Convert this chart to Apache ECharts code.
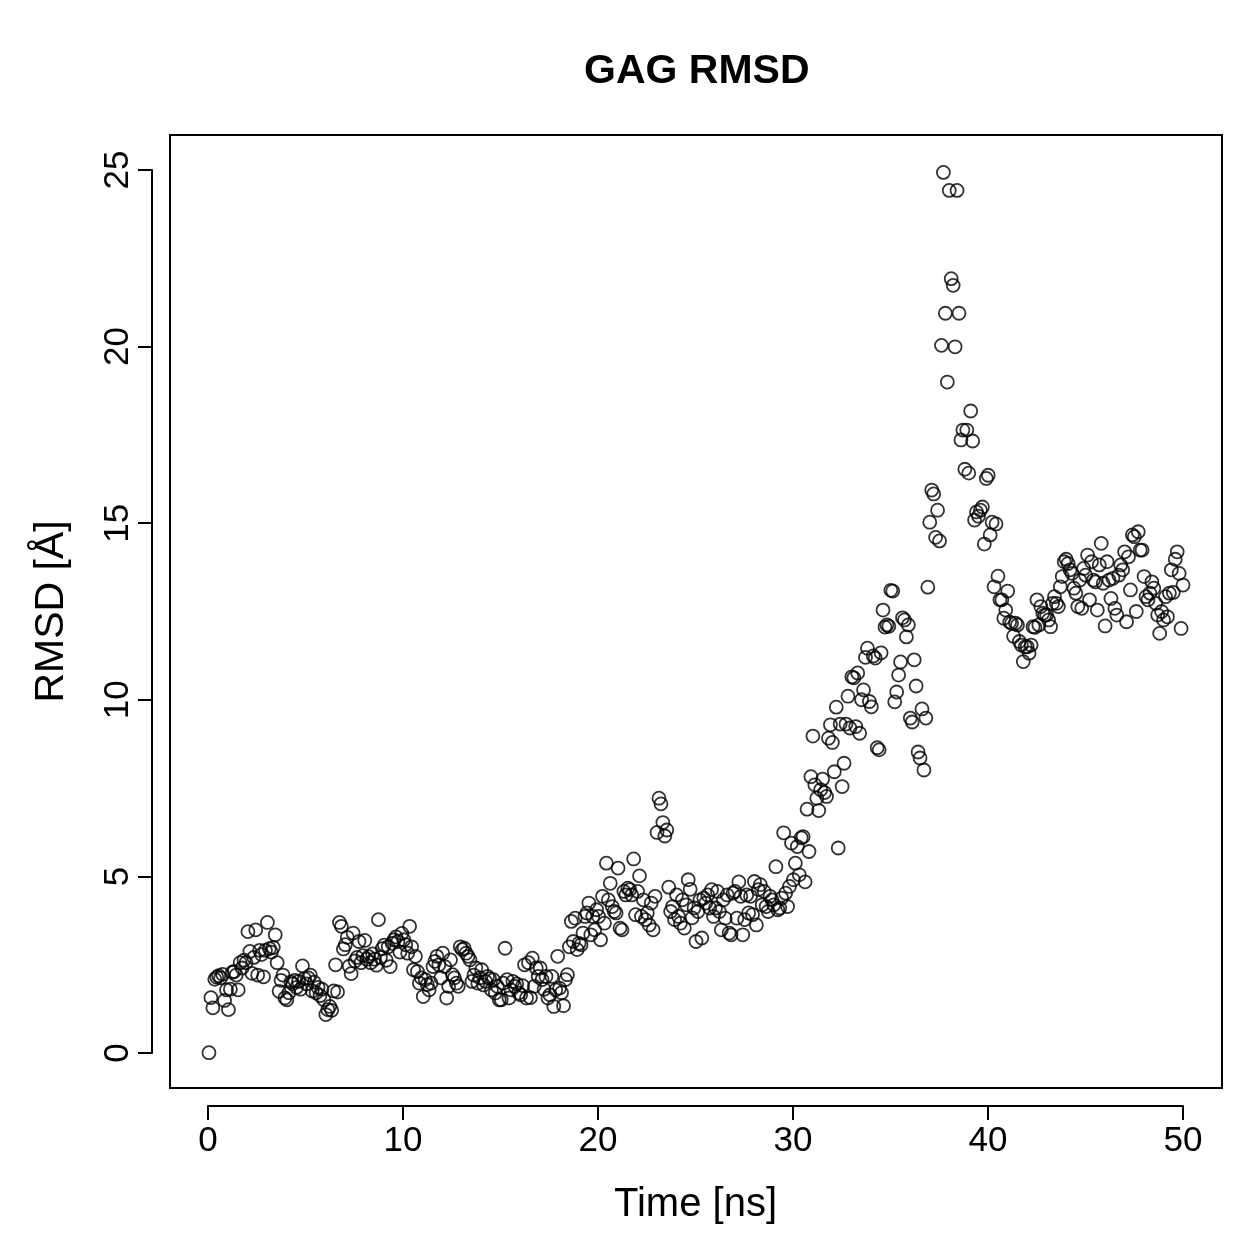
<!DOCTYPE html>
<html>
<head>
<meta charset="utf-8">
<script src="https://cdn.jsdelivr.net/npm/echarts@6/dist/echarts.min.js"></script>
<style>
  html, body { margin: 0; background: #fff; }
  #chart { width: 1259px; height: 1259px; }
</style>
</head>
<body>
<div id="chart"></div>
<script>
// RMSD [Å] sampled every 0.1 ns
const timeStep = 0.1;
const rmsd0to10 = [
  0.00, 1.56, 1.27, 2.08, 2.14, 2.18, 2.12, 2.22, 1.48, 1.78,
  1.22, 1.80, 2.28, 2.30, 2.20, 1.78, 2.55, 2.40, 2.62, 2.55,
  3.43, 2.87, 2.25, 2.70, 3.48, 2.20, 2.90, 2.78, 2.15, 2.90,
  3.69, 2.95, 2.85, 2.98, 3.34, 2.55, 1.74, 2.05, 2.20, 1.55,
  1.50, 1.70, 2.00, 1.95, 2.05, 1.85, 2.02, 1.80, 2.46, 2.10,
  1.95, 2.12, 2.20, 1.75, 2.00, 1.70, 1.85, 1.62, 1.80, 1.50,
  1.08, 1.22, 1.31, 1.20, 1.75, 2.49, 1.72, 3.69, 3.58, 2.94,
  3.06, 3.27, 2.45, 2.24, 3.39, 2.60, 2.70, 3.15, 2.55, 2.75,
  3.18, 2.65, 2.72, 2.55, 2.80, 2.65, 2.48, 3.77, 2.70, 2.95,
  3.05, 2.62, 3.00, 2.44, 3.10, 3.20, 3.28, 3.15, 2.85, 3.38
];
const rmsd10to20 = [
  3.20, 3.06, 2.82, 3.58, 3.00, 2.35, 2.73, 2.30, 1.97, 2.12,
  1.59, 2.07, 1.93, 1.78, 1.97, 2.44, 2.59, 2.73, 2.49, 2.12,
  2.82, 2.44, 1.55, 1.88, 2.63, 2.21, 2.12, 1.97, 1.88, 3.00,
  2.92, 2.96, 2.82, 2.73, 2.63, 2.02, 2.20, 2.40, 1.97, 2.12,
  2.35, 1.92, 2.02, 2.16, 2.10, 1.78, 2.07, 1.69, 1.88, 1.50,
  1.50, 1.97, 2.96, 2.07, 1.55, 1.78, 2.02, 1.88, 1.95, 1.69,
  1.64, 1.90, 2.49, 1.55, 2.55, 1.56, 2.68, 1.88, 2.40, 2.16,
  2.40, 2.07, 1.80, 2.16, 1.55, 1.64, 2.16, 1.31, 1.78, 2.73,
  1.83, 1.70, 1.33, 2.07, 2.21, 3.00, 3.72, 3.15, 3.81, 2.92,
  3.10, 3.06, 3.39, 3.86, 3.96, 4.24, 3.34, 3.86, 3.48, 4.05
];
const rmsd20to30 = [
  3.86, 3.20, 4.43, 3.67, 5.37, 4.33, 4.80, 4.14, 4.00, 3.96,
  5.23, 3.53, 3.48, 4.57, 4.47, 4.66, 4.62, 4.47, 5.49, 3.91,
  4.57, 5.01, 3.86, 4.33, 3.77, 3.96, 3.62, 4.24, 3.48, 4.43,
  6.24, 7.21, 7.05, 6.52, 6.14, 6.31, 4.69, 4.00, 4.14, 3.77,
  4.47, 3.86, 3.67, 4.33, 3.53, 4.19, 4.90, 4.63, 3.82, 4.10,
  3.15, 4.00, 4.33, 3.25, 4.38, 4.24, 4.47, 4.10, 4.62, 3.86,
  4.10, 4.57, 4.00, 3.48, 4.33, 3.81, 4.47, 3.39, 3.34, 4.52,
  4.57, 3.81, 4.84, 4.43, 3.34, 3.77, 4.47, 3.96, 4.43, 3.91,
  4.85, 3.62, 4.62, 4.76, 4.19, 4.57, 4.14, 4.00, 4.43, 4.33,
  4.19, 5.27, 4.05, 4.10, 4.38, 6.23, 4.52, 4.14, 4.71, 5.94
];
const rmsd30to40 = [
  4.90, 5.37, 5.84, 5.04, 6.09, 6.12, 4.84, 6.90, 5.70, 7.82,
  8.97, 7.59, 7.21, 6.86, 7.45, 7.75, 7.37, 7.26, 8.91, 9.29,
  8.79, 7.96, 9.79, 5.80, 9.31, 7.54, 8.20, 9.31, 10.10, 9.20,
  10.65, 10.62, 9.24, 10.76, 9.05, 10.00, 10.28, 11.20, 11.46, 9.95,
  9.80, 11.24, 11.18, 8.64, 8.58, 11.33, 12.54, 12.06, 12.12, 12.08,
  13.10, 13.08, 9.94, 10.22, 10.70, 11.07, 12.32, 12.26, 11.78, 12.12,
  9.48, 9.37, 11.13, 10.39, 8.52, 8.35, 9.74, 8.01, 9.48, 13.19,
  15.03, 15.94, 15.83, 14.60, 15.37, 14.50, 20.04, 24.94, 20.95, 19.00,
  24.43, 21.93, 21.74, 20.00, 24.43, 20.95, 17.36, 17.64, 16.53, 17.64,
  16.42, 18.18, 17.33, 15.09, 15.32, 15.20, 15.37, 15.46, 14.41, 16.27
];
const rmsd40to50 = [
  16.36, 14.67, 15.03, 13.20, 14.98, 13.50, 12.83, 12.83, 12.31, 12.54,
  13.08, 12.20, 12.17, 11.80, 12.17, 12.12, 11.65, 11.55, 11.08, 11.50,
  11.50, 11.32, 11.55, 12.07, 12.05, 12.83, 12.12, 12.64, 12.45, 12.40,
  12.40, 12.26, 12.07, 12.73, 12.92, 12.73, 12.64, 13.20, 13.49, 13.91,
  13.98, 13.86, 13.68, 13.58, 13.16, 13.02, 12.64, 13.39, 12.59, 13.72,
  13.53, 14.10, 12.83, 13.91, 13.39, 13.34, 12.54, 13.82, 14.43, 13.30,
  12.09, 13.91, 13.39, 12.87, 13.44, 12.59, 12.40, 13.53, 13.82, 13.68,
  14.19, 12.21, 14.05, 13.11, 14.67, 14.62, 12.50, 14.76, 14.24, 14.24,
  13.49, 12.92, 12.83, 13.02, 13.34, 13.16, 12.73, 12.40, 11.88, 12.50,
  12.26, 12.92, 12.35, 13.02, 13.68, 13.04, 13.98, 14.19, 13.58, 12.02,
  13.25
];

const rmsd = [].concat(rmsd0to10, rmsd10to20, rmsd20to30, rmsd30to40, rmsd40to50);
const points = rmsd.map((v, i) => [+(i * timeStep).toFixed(1), v]);

const font = '"Liberation Sans", Arial, Helvetica, sans-serif';

const chart = echarts.init(document.getElementById('chart'));

chart.setOption({
  animation: false,
  backgroundColor: '#fff',
  textStyle: { fontFamily: font, color: '#000' },
  title: {
    text: 'GAG RMSD',
    left: 579,
    top: 46,
    textStyle: { fontFamily: font, fontSize: 41, fontWeight: 'bold', color: '#000' }
  },
  grid: [
    // plot box (data region, R-style 4% padding)
    {
      left: 170, right: 37, top: 135, bottom: 171,
      show: true, borderColor: '#000', borderWidth: 2,
      backgroundColor: 'transparent'
    },
    // axes spanning only the tick range, detached from the box
    { left: 208, right: 76, top: 170, bottom: 206 }
  ],
  xAxis: [
    { gridIndex: 0, type: 'value', min: -2, max: 52, show: false },
    {
      gridIndex: 1, type: 'value', min: 0, max: 50, interval: 10,
      offset: 53,
      name: 'Time [ns]', nameLocation: 'middle', nameGap: 79,
      nameTextStyle: { fontFamily: font, fontSize: 40, color: '#000' },
      axisLine: { show: true, onZero: false, lineStyle: { color: '#000', width: 2 } },
      axisTick: { show: true, length: 14, lineStyle: { color: '#000', width: 2 } },
      axisLabel: { fontFamily: font, fontSize: 35, color: '#000', margin: 18 },
      splitLine: { show: false }
    }
  ],
  yAxis: [
    { gridIndex: 0, type: 'value', min: -1, max: 26, show: false },
    {
      gridIndex: 1, type: 'value', min: 0, max: 25, interval: 5,
      offset: 56,
      name: 'RMSD [Å]', nameLocation: 'middle', nameGap: 80, nameRotate: 90,
      nameTextStyle: { fontFamily: font, fontSize: 41, color: '#000' },
      axisLine: { show: true, onZero: false, lineStyle: { color: '#000', width: 2 } },
      axisTick: { show: true, length: 14, lineStyle: { color: '#000', width: 2 } },
      axisLabel: { fontFamily: font, fontSize: 35, color: '#000', margin: 16, rotate: 90 },
      splitLine: { show: false }
    }
  ],
  series: [
    {
      type: 'scatter',
      xAxisIndex: 0,
      yAxisIndex: 0,
      data: points,
      symbol: 'circle',
      symbolSize: 13,
      itemStyle: { color: 'rgba(0,0,0,0)', borderColor: '#000', borderWidth: 1.8 },
      emphasis: { disabled: true }
    }
  ]
});
</script>
</body>
</html>
